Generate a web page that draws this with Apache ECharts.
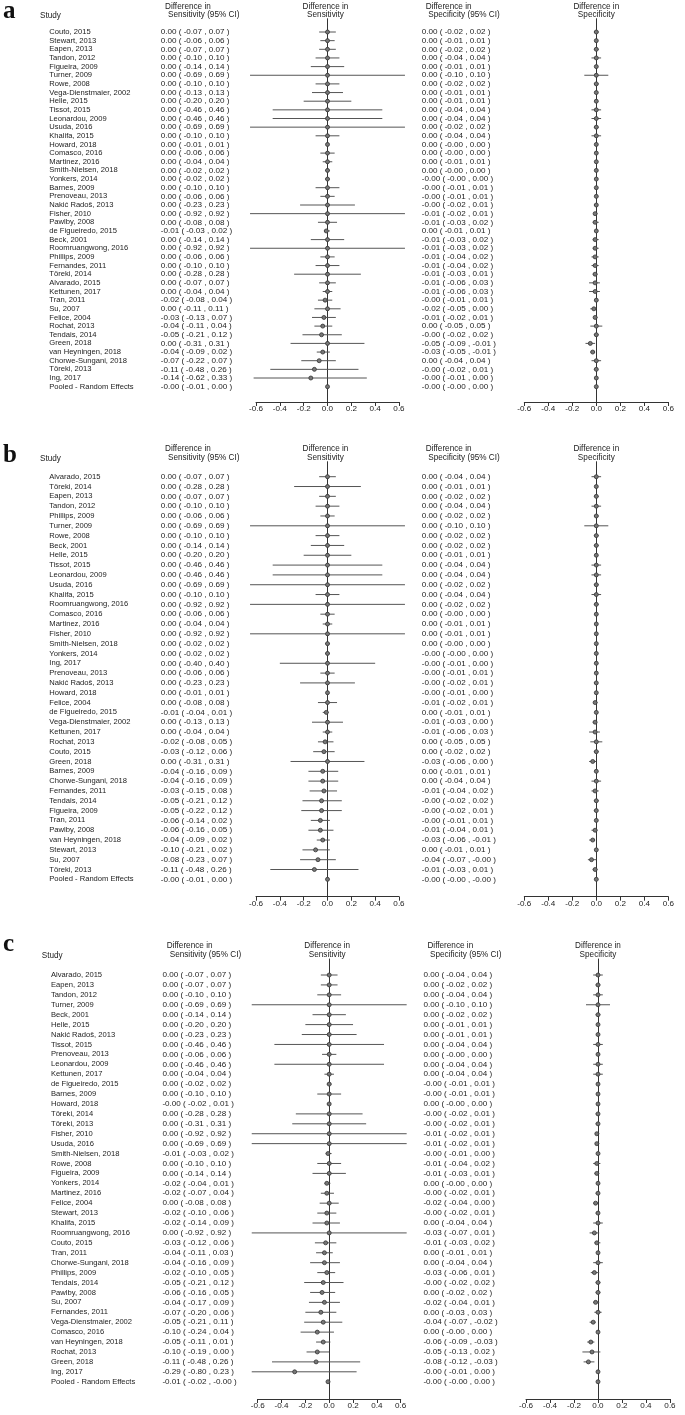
<!DOCTYPE html>
<html><head><meta charset="utf-8">
<script src="https://cdn.jsdelivr.net/npm/echarts@6/dist/echarts.min.js"></script>
<style>html,body{margin:0;padding:0;background:#fff}#c{width:685px;height:1415px}</style>
</head><body><div id="c"></div>
<script>
// ---------- DATA ----------
const axisTicks = [-0.6, -0.4, -0.2, 0.0, 0.2, 0.4, 0.6];

const studiesA = ["Couto, 2015","Stewart, 2013","Eapen, 2013","Tandon, 2012","Figueira, 2009","Turner, 2009","Rowe, 2008","Vega-Dienstmaier, 2002","Helle, 2015","Tissot, 2015","Leonardou, 2009","Usuda, 2016","Khalifa, 2015","Howard, 2018","Comasco, 2016","Martinez, 2016","Smith-Nielsen, 2018","Yonkers, 2014","Barnes, 2009","Prenoveau, 2013","Nakić Radoš, 2013","Fisher, 2010","Pawlby, 2008","de Figueiredo, 2015","Beck, 2001","Roomruangwong, 2016","Phillips, 2009","Fernandes, 2011","Töreki, 2014","Alvarado, 2015","Kettunen, 2017","Tran, 2011","Su, 2007","Felice, 2004","Rochat, 2013","Tendais, 2014","Green, 2018","van Heyningen, 2018","Chorwe-Sungani, 2018","Töreki, 2013","Ing, 2017","Pooled - Random Effects"];
const sensA = [[0.00,-0.07,0.07],[0.00,-0.06,0.06],[0.00,-0.07,0.07],[0.00,-0.10,0.10],[0.00,-0.14,0.14],[0.00,-0.69,0.69],[0.00,-0.10,0.10],[0.00,-0.13,0.13],[0.00,-0.20,0.20],[0.00,-0.46,0.46],[0.00,-0.46,0.46],[0.00,-0.69,0.69],[0.00,-0.10,0.10],[0.00,-0.01,0.01],[0.00,-0.06,0.06],[0.00,-0.04,0.04],[0.00,-0.02,0.02],[0.00,-0.02,0.02],[0.00,-0.10,0.10],[0.00,-0.06,0.06],[0.00,-0.23,0.23],[0.00,-0.92,0.92],[0.00,-0.08,0.08],[-0.01,-0.03,0.02],[0.00,-0.14,0.14],[0.00,-0.92,0.92],[0.00,-0.06,0.06],[0.00,-0.10,0.10],[0.00,-0.28,0.28],[0.00,-0.07,0.07],[0.00,-0.04,0.04],[-0.02,-0.08,0.04],[0.00,-0.11,0.11],[-0.03,-0.13,0.07],[-0.04,-0.11,0.04],[-0.05,-0.21,0.12],[0.00,-0.31,0.31],[-0.04,-0.09,0.02],[-0.07,-0.22,0.07],[-0.11,-0.48,0.26],[-0.14,-0.62,0.33],[-0.00,-0.01,0.00]];
const specA = [[0.00,-0.02,0.02],[0.00,-0.01,0.01],[0.00,-0.02,0.02],[0.00,-0.04,0.04],[0.00,-0.01,0.01],[0.00,-0.10,0.10],[0.00,-0.02,0.02],[0.00,-0.01,0.01],[0.00,-0.01,0.01],[0.00,-0.04,0.04],[0.00,-0.04,0.04],[0.00,-0.02,0.02],[0.00,-0.04,0.04],[0.00,-0.00,0.00],[0.00,-0.00,0.00],[0.00,-0.01,0.01],[0.00,-0.00,0.00],[-0.00,-0.00,0.00],[-0.00,-0.01,0.01],[-0.00,-0.01,0.01],[-0.00,-0.02,0.01],[-0.01,-0.02,0.01],[-0.01,-0.03,0.02],[0.00,-0.01,0.01],[-0.01,-0.03,0.02],[-0.01,-0.03,0.02],[-0.01,-0.04,0.02],[-0.01,-0.04,0.02],[-0.01,-0.03,0.01],[-0.01,-0.06,0.03],[-0.01,-0.06,0.03],[-0.00,-0.01,0.01],[-0.02,-0.05,0.00],[-0.01,-0.02,0.01],[0.00,-0.05,0.05],[-0.00,-0.02,0.02],[-0.05,-0.09,-0.01],[-0.03,-0.05,-0.01],[0.00,-0.04,0.04],[-0.00,-0.02,0.01],[-0.00,-0.01,0.00],[-0.00,-0.00,0.00]];

const studiesB = ["Alvarado, 2015","Töreki, 2014","Eapen, 2013","Tandon, 2012","Phillips, 2009","Turner, 2009","Rowe, 2008","Beck, 2001","Helle, 2015","Tissot, 2015","Leonardou, 2009","Usuda, 2016","Khalifa, 2015","Roomruangwong, 2016","Comasco, 2016","Martinez, 2016","Fisher, 2010","Smith-Nielsen, 2018","Yonkers, 2014","Ing, 2017","Prenoveau, 2013","Nakić Radoš, 2013","Howard, 2018","Felice, 2004","de Figueiredo, 2015","Vega-Dienstmaier, 2002","Kettunen, 2017","Rochat, 2013","Couto, 2015","Green, 2018","Barnes, 2009","Chorwe-Sungani, 2018","Fernandes, 2011","Tendais, 2014","Figueira, 2009","Tran, 2011","Pawlby, 2008","van Heyningen, 2018","Stewart, 2013","Su, 2007","Töreki, 2013","Pooled - Random Effects"];
const sensB = [[0.00,-0.07,0.07],[0.00,-0.28,0.28],[0.00,-0.07,0.07],[0.00,-0.10,0.10],[0.00,-0.06,0.06],[0.00,-0.69,0.69],[0.00,-0.10,0.10],[0.00,-0.14,0.14],[0.00,-0.20,0.20],[0.00,-0.46,0.46],[0.00,-0.46,0.46],[0.00,-0.69,0.69],[0.00,-0.10,0.10],[0.00,-0.92,0.92],[0.00,-0.06,0.06],[0.00,-0.04,0.04],[0.00,-0.92,0.92],[0.00,-0.02,0.02],[0.00,-0.02,0.02],[0.00,-0.40,0.40],[0.00,-0.06,0.06],[0.00,-0.23,0.23],[0.00,-0.01,0.01],[0.00,-0.08,0.08],[-0.01,-0.04,0.01],[0.00,-0.13,0.13],[0.00,-0.04,0.04],[-0.02,-0.08,0.05],[-0.03,-0.12,0.06],[0.00,-0.31,0.31],[-0.04,-0.16,0.09],[-0.04,-0.16,0.09],[-0.03,-0.15,0.08],[-0.05,-0.21,0.12],[-0.05,-0.22,0.12],[-0.06,-0.14,0.02],[-0.06,-0.16,0.05],[-0.04,-0.09,0.02],[-0.10,-0.21,0.02],[-0.08,-0.23,0.07],[-0.11,-0.48,0.26],[-0.00,-0.01,0.00]];
const specB = [[0.00,-0.04,0.04],[0.00,-0.01,0.01],[0.00,-0.02,0.02],[0.00,-0.04,0.04],[0.00,-0.02,0.02],[0.00,-0.10,0.10],[0.00,-0.02,0.02],[0.00,-0.02,0.02],[0.00,-0.01,0.01],[0.00,-0.04,0.04],[0.00,-0.04,0.04],[0.00,-0.02,0.02],[0.00,-0.04,0.04],[0.00,-0.02,0.02],[0.00,-0.00,0.00],[0.00,-0.01,0.01],[0.00,-0.01,0.01],[0.00,-0.00,0.00],[-0.00,-0.00,0.00],[-0.00,-0.01,0.00],[-0.00,-0.01,0.01],[-0.00,-0.02,0.01],[-0.00,-0.01,0.00],[-0.01,-0.02,0.01],[0.00,-0.01,0.01],[-0.01,-0.03,0.00],[-0.01,-0.06,0.03],[0.00,-0.05,0.05],[0.00,-0.02,0.02],[-0.03,-0.06,0.00],[0.00,-0.01,0.01],[0.00,-0.04,0.04],[-0.01,-0.04,0.02],[-0.00,-0.02,0.02],[-0.00,-0.02,0.01],[-0.00,-0.01,0.01],[-0.01,-0.04,0.01],[-0.03,-0.06,-0.01],[0.00,-0.01,0.01],[-0.04,-0.07,-0.00],[-0.01,-0.03,0.01],[-0.00,-0.00,-0.00]];

const studiesC = ["Alvarado, 2015","Eapen, 2013","Tandon, 2012","Turner, 2009","Beck, 2001","Helle, 2015","Nakić Radoš, 2013","Tissot, 2015","Prenoveau, 2013","Leonardou, 2009","Kettunen, 2017","de Figueiredo, 2015","Barnes, 2009","Howard, 2018","Töreki, 2014","Töreki, 2013","Fisher, 2010","Usuda, 2016","Smith-Nielsen, 2018","Rowe, 2008","Figueira, 2009","Yonkers, 2014","Martinez, 2016","Felice, 2004","Stewart, 2013","Khalifa, 2015","Roomruangwong, 2016","Couto, 2015","Tran, 2011","Chorwe-Sungani, 2018","Phillips, 2009","Tendais, 2014","Pawlby, 2008","Su, 2007","Fernandes, 2011","Vega-Dienstmaier, 2002","Comasco, 2016","van Heyningen, 2018","Rochat, 2013","Green, 2018","Ing, 2017","Pooled - Random Effects"];
const sensC = [[0.00,-0.07,0.07],[0.00,-0.07,0.07],[0.00,-0.10,0.10],[0.00,-0.69,0.69],[0.00,-0.14,0.14],[0.00,-0.20,0.20],[0.00,-0.23,0.23],[0.00,-0.46,0.46],[0.00,-0.06,0.06],[0.00,-0.46,0.46],[0.00,-0.04,0.04],[0.00,-0.02,0.02],[0.00,-0.10,0.10],[-0.00,-0.02,0.01],[0.00,-0.28,0.28],[0.00,-0.31,0.31],[0.00,-0.92,0.92],[0.00,-0.69,0.69],[-0.01,-0.03,0.02],[0.00,-0.10,0.10],[0.00,-0.14,0.14],[-0.02,-0.04,0.01],[-0.02,-0.07,0.04],[0.00,-0.08,0.08],[-0.02,-0.10,0.06],[-0.02,-0.14,0.09],[0.00,-0.92,0.92],[-0.03,-0.12,0.06],[-0.04,-0.11,0.03],[-0.04,-0.16,0.09],[-0.02,-0.10,0.05],[-0.05,-0.21,0.12],[-0.06,-0.16,0.05],[-0.04,-0.17,0.09],[-0.07,-0.20,0.06],[-0.05,-0.21,0.11],[-0.10,-0.24,0.04],[-0.05,-0.11,0.01],[-0.10,-0.19,0.00],[-0.11,-0.48,0.26],[-0.29,-0.80,0.23],[-0.01,-0.02,-0.00]];
const specC = [[0.00,-0.04,0.04],[0.00,-0.02,0.02],[0.00,-0.04,0.04],[0.00,-0.10,0.10],[0.00,-0.02,0.02],[0.00,-0.01,0.01],[0.00,-0.01,0.01],[0.00,-0.04,0.04],[0.00,-0.00,0.00],[0.00,-0.04,0.04],[0.00,-0.04,0.04],[-0.00,-0.01,0.01],[-0.00,-0.01,0.01],[0.00,-0.00,0.00],[-0.00,-0.02,0.01],[-0.00,-0.02,0.01],[-0.01,-0.02,0.01],[-0.01,-0.02,0.01],[-0.00,-0.01,0.00],[-0.01,-0.04,0.02],[-0.01,-0.03,0.01],[0.00,-0.00,0.00],[-0.00,-0.02,0.01],[-0.02,-0.04,0.00],[-0.00,-0.02,0.01],[0.00,-0.04,0.04],[-0.03,-0.07,0.01],[-0.01,-0.03,0.02],[0.00,-0.01,0.01],[0.00,-0.04,0.04],[-0.03,-0.06,0.01],[-0.00,-0.02,0.02],[0.00,-0.02,0.02],[-0.02,-0.04,0.01],[0.00,-0.03,0.03],[-0.04,-0.07,-0.02],[0.00,-0.00,0.00],[-0.06,-0.09,-0.03],[-0.05,-0.13,0.02],[-0.08,-0.12,-0.03],[-0.00,-0.01,0.00],[-0.00,-0.00,0.00]];

// ---------- LAYOUT ----------
const FONT = '"Liberation Sans", Arial, Helvetica, sans-serif';
const TXT = '#222';
const LINE = '#333';
const CI_COL = '#555';
const panels = [
  {letter:'a', letterY:11.3, names:studiesA, sens:sensA, spec:specA, dx:0,   h1:6.3,   h2:14.7,  row0:32,    sp:8.65, axisY:402},
  {letter:'b', letterY:456,  names:studiesB, sens:sensB, spec:specB, dx:0,   h1:448.3, h2:457.7, row0:476.7, sp:9.82, axisY:896.7},
  {letter:'c', letterY:945,  names:studiesC, sens:sensC, spec:specC, dx:1.7, h1:946,   h2:955,   row0:975,   sp:9.92, axisY:1399}
];
const MID = {left:256, width:143};
const RIGHT = {left:524.3, width:144};
const CLIPV = 0.65;

function fmt(v){ return (v < 0 || Object.is(v, -0)) ? '-' + Math.abs(v).toFixed(2) : v.toFixed(2); }
function ciText(t){ return fmt(t[0]) + ' ( ' + fmt(t[1]) + ' , ' + fmt(t[2]) + ' )'; }
function tickFmt(v){ return Math.abs(v) < 1e-9 ? '0.0' : v.toFixed(1); }

const grids = [], xAxes = [], yAxes = [], series = [], graphics = [];

function txt(x, y, text, size, align){
  return {type:'text', x:x, y:y, silent:true,
    style:{text:text, fontSize:size, fontFamily:FONT, fill:TXT, align:align||'left', verticalAlign:'middle'}};
}

panels.forEach(function(p, k){
  const top = p.h2 + 4;
  const height = p.axisY - top;
  [MID, RIGHT].forEach(function(g, j){
    const gi = k*2 + j;
    grids.push({left:g.left + p.dx, width:g.width, top:top, height:height, containLabel:false, outerBoundsMode:'none'});
    xAxes.push({gridIndex:gi, type:'value', min:axisTicks[0], max:axisTicks[axisTicks.length-1], interval:0.2,
      axisLine:{show:true, onZero:false, lineStyle:{color:LINE, width:1}},
      axisTick:{show:true, length:4, lineStyle:{color:LINE, width:1}},
      axisLabel:{show:true, fontSize:8.1, fontFamily:FONT, color:TXT, margin:3, formatter:tickFmt, showMinLabel:true, showMaxLabel:true, hideOverlap:false},
      splitLine:{show:false}});
    yAxes.push({gridIndex:gi, type:'value', inverse:true, min:(top - p.row0)/p.sp, max:(p.axisY - p.row0)/p.sp,
      axisLine:{show:true, onZero:true, lineStyle:{color:LINE, width:1}},
      axisTick:{show:false}, axisLabel:{show:false}, splitLine:{show:false}});
    const arr = j === 0 ? p.sens : p.spec;
    series.push({type:'custom', xAxisIndex:gi, yAxisIndex:gi, clip:false, silent:true, z:3,
      data: arr.map(function(t, i){ return [t[0], t[1], t[2], i]; }),
      encode:{x:[0,1,2], y:3},
      renderItem:function(params, api){
        const y = api.coord([0, api.value(3)])[1];
        const xmin = api.coord([-CLIPV, 0])[0], xmax = api.coord([CLIPV, 0])[0];
        const x1 = Math.max(xmin, api.coord([api.value(1), 0])[0]);
        const x2 = Math.min(xmax, api.coord([api.value(2), 0])[0]);
        const xc = api.coord([api.value(0), 0])[0];
        return {type:'group', children:[
          {type:'line', shape:{x1:x1, y1:y, x2:x2, y2:y}, style:{stroke:CI_COL, lineWidth:1}},
          {type:'circle', shape:{cx:xc, cy:y, r:2}, style:{fill:'#777', stroke:'#333', lineWidth:0.8}}
        ]};
      }});
  });
  // text columns via custom series on the middle grid (y from the axis scale)
  const names = p.names, sens = p.sens, spec = p.spec, dx = p.dx;
  series.push({type:'custom', xAxisIndex:k*2, yAxisIndex:k*2, clip:false, silent:true, z:4,
    data: names.map(function(n, i){ return [0, i]; }),
    encode:{x:0, y:1},
    renderItem:function(params, api){
      const i = params.dataIndex;
      const y = api.coord([0, api.value(1)])[1];
      const st = function(t, s){ return {text:t, fontSize:s, fontFamily:FONT, fill:TXT, align:'left', verticalAlign:'middle'}; };
      return {type:'group', children:[
        {type:'text', x:49.3 + dx, y:y, style:st(names[i], 7.6)},
        {type:'text', x:160.7 + dx, y:y, style:st(ciText(sens[i]), 8.1)},
        {type:'text', x:421.7 + dx, y:y, style:st(ciText(spec[i]), 8.1)}
      ]};
    }});
  // headers
  const midZero = MID.left + dx + MID.width/2;
  const rightZero = RIGHT.left + dx + RIGHT.width/2;
  graphics.push({type:'text', x:3, y:p.letterY, silent:true,
    style:{text:p.letter, font:'bold 25px "Liberation Serif", "DejaVu Serif", serif', fill:'#111', align:'left', verticalAlign:'middle'}});
  graphics.push(txt(40 + dx, p.h2 + 1, 'Study', 8.2));
  graphics.push(txt(165 + dx, p.h1, 'Difference in', 8.2));
  graphics.push(txt(168 + dx, p.h2, 'Sensitivity (95% CI)', 8.2));
  graphics.push(txt(midZero - 2, p.h1, 'Difference in', 8.2, 'center'));
  graphics.push(txt(midZero - 2, p.h2, 'Sensitivity', 8.2, 'center'));
  graphics.push(txt(425.7 + dx, p.h1, 'Difference in', 8.2));
  graphics.push(txt(428.3 + dx, p.h2, 'Specificity (95% CI)', 8.2));
  graphics.push(txt(rightZero, p.h1, 'Difference in', 8.2, 'center'));
  graphics.push(txt(rightZero, p.h2, 'Specificity', 8.2, 'center'));
});

const chart = echarts.init(document.getElementById('c'), null, {renderer:'canvas'});
chart.setOption({
  animation:false,
  backgroundColor:'#fff',
  grid:grids, xAxis:xAxes, yAxis:yAxes, series:series,
  graphic:{elements:graphics}
});
</script></body></html>
